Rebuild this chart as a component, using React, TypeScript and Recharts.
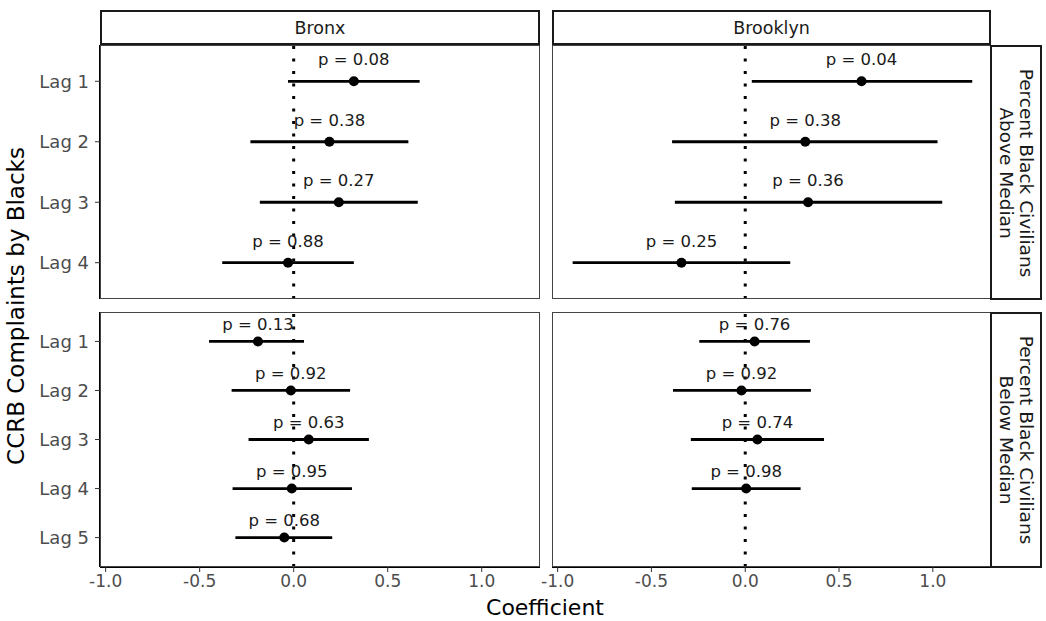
import React from 'react';
import { ScatterChart, Scatter, XAxis, YAxis, ErrorBar, ReferenceLine } from 'recharts';

const FONT = '"DejaVu Sans", sans-serif';
const INK = '#000000';
const TICK = '#4d4d4d';
const STRIP_INK = '#1a1a1a';

// x axis (coefficient)
const X_TICKS = [-1, -0.5, 0, 0.5, 1];
const X_DOMAIN: [number, number] = [-1.03, 1.31];

// y categories per row
const LAGS_ABOVE = [1, 2, 3, 4];
const LAGS_BELOW = [1, 2, 3, 4, 5];

// Bronx, percent black civilians above median
const BX_ABOVE_COEF = [0.32, 0.19, 0.24, -0.03];
const BX_ABOVE_LOW = [-0.03, -0.23, -0.18, -0.38];
const BX_ABOVE_HIGH = [0.67, 0.61, 0.66, 0.32];
const BX_ABOVE_P = ['0.08', '0.38', '0.27', '0.88'];

// Brooklyn, above median
const BK_ABOVE_COEF = [0.62, 0.32, 0.335, -0.34];
const BK_ABOVE_LOW = [0.035, -0.39, -0.375, -0.92];
const BK_ABOVE_HIGH = [1.21, 1.025, 1.05, 0.24];
const BK_ABOVE_P = ['0.04', '0.38', '0.36', '0.25'];

// Bronx, below median
const BX_BELOW_COEF = [-0.19, -0.015, 0.08, -0.01, -0.05];
const BX_BELOW_LOW = [-0.45, -0.33, -0.24, -0.325, -0.31];
const BX_BELOW_HIGH = [0.055, 0.3, 0.4, 0.31, 0.205];
const BX_BELOW_P = ['0.13', '0.92', '0.63', '0.95', '0.68'];

// Brooklyn, below median (no lag 5)
const BK_BELOW_COEF = [0.05, -0.02, 0.065, 0.005];
const BK_BELOW_LOW = [-0.245, -0.385, -0.29, -0.285];
const BK_BELOW_HIGH = [0.345, 0.35, 0.42, 0.295];
const BK_BELOW_P = ['0.76', '0.92', '0.74', '0.98'];

const LABEL_NUDGE = 0.36; // p label sits this far above the point (lag units)

type Row = { lag: number; coef: number; err: [number, number]; label: string };

function makeRows(lags: number[], coef: number[], low: number[], high: number[], p: string[]): Row[] {
  return coef.map((c, i) => ({
    lag: lags[i],
    coef: c,
    err: [c - low[i], high[i] - c],
    label: `p = ${p[i]}`,
  }));
}

const PointShape = (props: any) => <circle cx={props.cx} cy={props.cy} r={5} fill={INK} />;

const LabelShape = (props: any) => (
  <text
    x={props.cx}
    y={props.cy}
    dy="0.35em"
    textAnchor="middle"
    fontSize={16.5}
    fontFamily={FONT}
    fill={STRIP_INK}
  >
    {props.payload.label}
  </text>
);

type PanelProps = {
  rows: Row[];
  lags: number[];
  left: number;
  top: number;
  plotW: number;
  plotH: number;
  showY: boolean;
  showX: boolean;
};

const Y_AXIS_W = 100;
const PAD_L = 30; // room for the -1.0 tick label on the right column
const X_AXIS_H = 40;

function Panel({ rows, lags, left, top, plotW, plotH, showY, showX }: PanelProps) {
  const leftSpace = showY ? Y_AXIS_W : PAD_L;
  const width = plotW + leftSpace;
  const height = plotH + (showX ? X_AXIS_H : 0);
  const labels = rows.map((r) => ({ ...r, lag: r.lag - LABEL_NUDGE }));
  const yDomain: [number, number] = [0.4, lags.length + 0.6];
  return (
    <div style={{ position: 'absolute', left: left - leftSpace, top }}>
      <ScatterChart
        width={width}
        height={height}
        margin={{ top: 0, right: 0, bottom: 0, left: showY ? 0 : PAD_L }}
      >
        <XAxis
          type="number"
          dataKey="coef"
          domain={X_DOMAIN}
          allowDataOverflow
          ticks={X_TICKS}
          interval={0}
          tickFormatter={(v: number) => v.toFixed(1)}
          hide={!showX}
          height={X_AXIS_H}
          axisLine={{ stroke: INK, strokeWidth: 2 }}
          tickLine={{ stroke: '#333' }}
          tickSize={5}
          tickMargin={3}
          tick={{ fontSize: 17, fill: TICK, fontFamily: FONT }}
        />
        <YAxis
          type="number"
          dataKey="lag"
          domain={yDomain}
          allowDataOverflow
          reversed
          ticks={lags}
          interval={0}
          tickFormatter={(v: number) => `Lag ${v}`}
          hide={!showY}
          width={Y_AXIS_W}
          axisLine={{ stroke: INK, strokeWidth: 2 }}
          tickLine={{ stroke: '#333' }}
          tickSize={5}
          tickMargin={6}
          tick={{ fontSize: 18, fill: TICK, fontFamily: FONT }}
        />
        <ReferenceLine x={0} stroke={INK} strokeWidth={3} strokeDasharray="3 9.5" />
        <Scatter data={rows} shape={PointShape} isAnimationActive={false}>
          <ErrorBar dataKey="err" direction="x" width={0} stroke={INK} strokeWidth={2.8} />
        </Scatter>
        <Scatter data={labels} shape={LabelShape} isAnimationActive={false} />
      </ScatterChart>
      <div
        style={{
          position: 'absolute',
          left: leftSpace,
          top: 0,
          width: plotW,
          height: plotH,
          border: '1px solid #444',
          boxSizing: 'border-box',
          pointerEvents: 'none',
        }}
      />
    </div>
  );
}

const stripBox: React.CSSProperties = {
  position: 'absolute',
  border: `2px solid ${STRIP_INK}`,
  boxSizing: 'border-box',
  background: '#fff',
  display: 'flex',
  alignItems: 'center',
  justifyContent: 'center',
  color: STRIP_INK,
  fontFamily: FONT,
  fontSize: 17.5,
};

function RowStrip({ top, height, lines }: { top: number; height: number; lines: string[] }) {
  return (
    <div style={{ ...stripBox, left: 990, top, width: 52, height, fontSize: 18.5 }}>
      <div style={{ transform: 'rotate(90deg)', whiteSpace: 'nowrap', textAlign: 'center', lineHeight: '20px' }}>
        {lines.map((l) => (
          <div key={l}>{l}</div>
        ))}
      </div>
    </div>
  );
}

export default function App() {
  return (
    <div style={{ position: 'absolute', left: 0, top: 0, width: 1046, height: 621, background: '#fff', fontFamily: FONT }}>
      <Panel rows={makeRows(LAGS_ABOVE, BX_ABOVE_COEF, BX_ABOVE_LOW, BX_ABOVE_HIGH, BX_ABOVE_P)} lags={LAGS_ABOVE} left={100} top={45} plotW={440} plotH={254} showY showX={false} />
      <Panel rows={makeRows(LAGS_ABOVE, BK_ABOVE_COEF, BK_ABOVE_LOW, BK_ABOVE_HIGH, BK_ABOVE_P)} lags={LAGS_ABOVE} left={552} top={45} plotW={439} plotH={254} showY={false} showX={false} />
      <Panel rows={makeRows(LAGS_BELOW, BX_BELOW_COEF, BX_BELOW_LOW, BX_BELOW_HIGH, BX_BELOW_P)} lags={LAGS_BELOW} left={100} top={312} plotW={440} plotH={255} showY showX />
      <Panel rows={makeRows(LAGS_BELOW, BK_BELOW_COEF, BK_BELOW_LOW, BK_BELOW_HIGH, BK_BELOW_P)} lags={LAGS_BELOW} left={552} top={312} plotW={439} plotH={255} showY={false} showX />

      <div style={{ ...stripBox, left: 100, top: 10, width: 440, height: 35 }}>Bronx</div>
      <div style={{ ...stripBox, left: 552, top: 10, width: 439, height: 35 }}>Brooklyn</div>
      <RowStrip top={45} height={255} lines={['Percent Black Civilians', 'Above Median']} />
      <RowStrip top={312} height={256} lines={['Percent Black Civilians', 'Below Median']} />

      <div
        style={{
          position: 'absolute',
          left: 345,
          top: 595,
          width: 400,
          textAlign: 'center',
          fontSize: 22,
          lineHeight: '26px',
          color: INK,
        }}
      >
        Coefficient
      </div>
      <div
        style={{
          position: 'absolute',
          left: 16 - 200,
          top: 306 - 15,
          width: 400,
          height: 30,
          lineHeight: '30px',
          textAlign: 'center',
          fontSize: 23,
          color: INK,
          transform: 'rotate(-90deg)',
          whiteSpace: 'nowrap',
        }}
      >
        CCRB Complaints by Blacks
      </div>
    </div>
  );
}
